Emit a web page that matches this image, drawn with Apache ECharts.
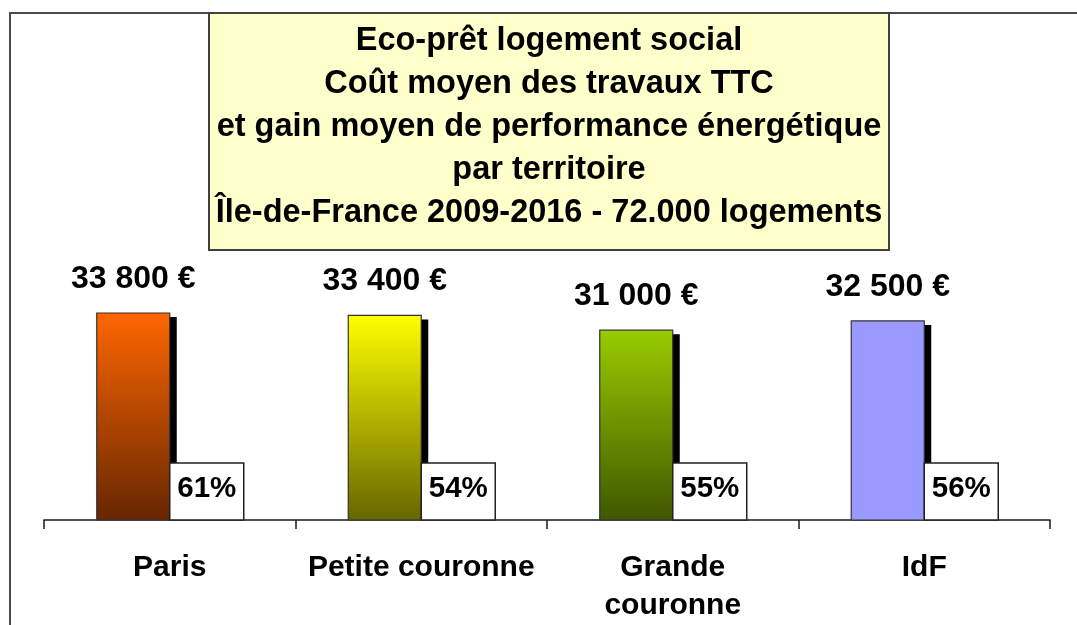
<!DOCTYPE html>
<html>
<head>
<meta charset="utf-8">
<script src="https://cdn.jsdelivr.net/npm/echarts@6/dist/echarts.min.js"></script>
<style>
html,body{margin:0;padding:0;background:#fff;}
#chart{width:1077px;height:625px;}
</style>
</head>
<body>
<div id="chart"></div>
<script>
const categories = ['Paris', 'Petite couronne', 'Grande\ncouronne', 'IdF'];
const costs = [33800, 33400, 31000, 32500];
const gains = [61, 54, 55, 56];
const titleLines = [
  'Eco-prêt logement social',
  'Coût moyen des travaux TTC',
  'et gain moyen de performance énergétique',
  'par territoire',
  'Île-de-France 2009-2016 - 72.000 logements'
];

const FONT = '"Liberation Sans", Arial, sans-serif';
const palette = [
  ['#FF6600', '#662600'],
  ['#FFFF00', '#666600'],
  ['#99CC00', '#3F5700'],
  ['#9999FF', '#9999FF']
];

function fmtEuro(v) {
  const th = Math.floor(v / 1000);
  const rest = String(v % 1000).padStart(3, '0');
  return th + ' ' + rest + ' €';
}

const chart = echarts.init(document.getElementById('chart'), null, {renderer: 'canvas'});

const option = {
  backgroundColor: '#ffffff',
  animation: false,
  grid: {left: 44, right: 27, top: 275, bottom: 104, containLabel: false},
  xAxis: {
    type: 'category',
    data: categories,
    boundaryGap: true,
    axisLine: {show: true, lineStyle: {color: '#1a1a1a', width: 1.5}},
    axisTick: {show: true, length: 9, lineStyle: {color: '#1a1a1a', width: 1.5}},
    axisLabel: {
      interval: 0,
      margin: 29,
      color: '#000',
      fontFamily: FONT,
      fontWeight: 'bold',
      fontSize: 30,
      lineHeight: 38
    },
    splitLine: {show: false}
  },
  yAxis: {
    type: 'value',
    min: 0,
    max: 40000,
    show: false
  },
  graphic: [
    {
      type: 'rect', z: 0, silent: true,
      shape: {x: 10, y: 13, width: 1200, height: 800},
      style: {fill: 'none', stroke: '#4a4a4a', lineWidth: 2}
    },
    {
      type: 'rect', z: 1, silent: true,
      shape: {x: 209, y: 13, width: 680, height: 237},
      style: {fill: '#FFFFCC', stroke: '#404040', lineWidth: 2}
    },
    {
      type: 'text', z: 2, silent: true,
      style: {
        text: titleLines.join('\n'),
        x: 549, y: 20,
        align: 'center', verticalAlign: 'top',
        font: 'bold 32.5px ' + FONT,
        lineHeight: 43,
        fill: '#000'
      }
    }
  ],
  series: [{
    type: 'custom',
    data: categories.map((c, i) => [i, costs[i], gains[i]]),
    encode: {x: 0, y: 1},
    renderItem: function (params, api) {
      const i = api.value(0);
      const v = api.value(1);
      const g = api.value(2);
      const base = api.coord([i, 0]);
      const topPt = api.coord([i, v]);
      const cx = base[0];
      const y0 = base[1];
      const top = topPt[1];
      const bw = 73, boxW = 74, boxH = 57;
      const bx = cx - bw;
      const col = palette[i];
      return {
        type: 'group',
        children: [
          {type: 'rect', shape: {x: bx + 7, y: top + 4, width: bw, height: y0 - top - 4}, style: {fill: '#000'}},
          {type: 'rect', shape: {x: bx, y: top, width: bw, height: y0 - top},
            style: {fill: new echarts.graphic.LinearGradient(0, 0, 0, 1, [{offset: 0, color: col[0]}, {offset: 1, color: col[1]}]), stroke: '#333', lineWidth: 1.2}},
          {type: 'rect', shape: {x: cx, y: y0 - boxH, width: boxW, height: boxH}, style: {fill: '#fff', stroke: '#222', lineWidth: 1.5}},
          {type: 'text', style: {text: g + '%', x: cx + boxW / 2, y: y0 - 31, align: 'center', verticalAlign: 'middle', font: 'bold 29.5px ' + FONT, fill: '#000'}},
          {type: 'text', style: {text: fmtEuro(v), x: bx + bw / 2, y: top - 34, align: 'center', verticalAlign: 'middle', font: 'bold 32px ' + FONT, fill: '#000'}}
        ]
      };
    }
  }]
};
chart.setOption(option);
</script>
</body>
</html>
